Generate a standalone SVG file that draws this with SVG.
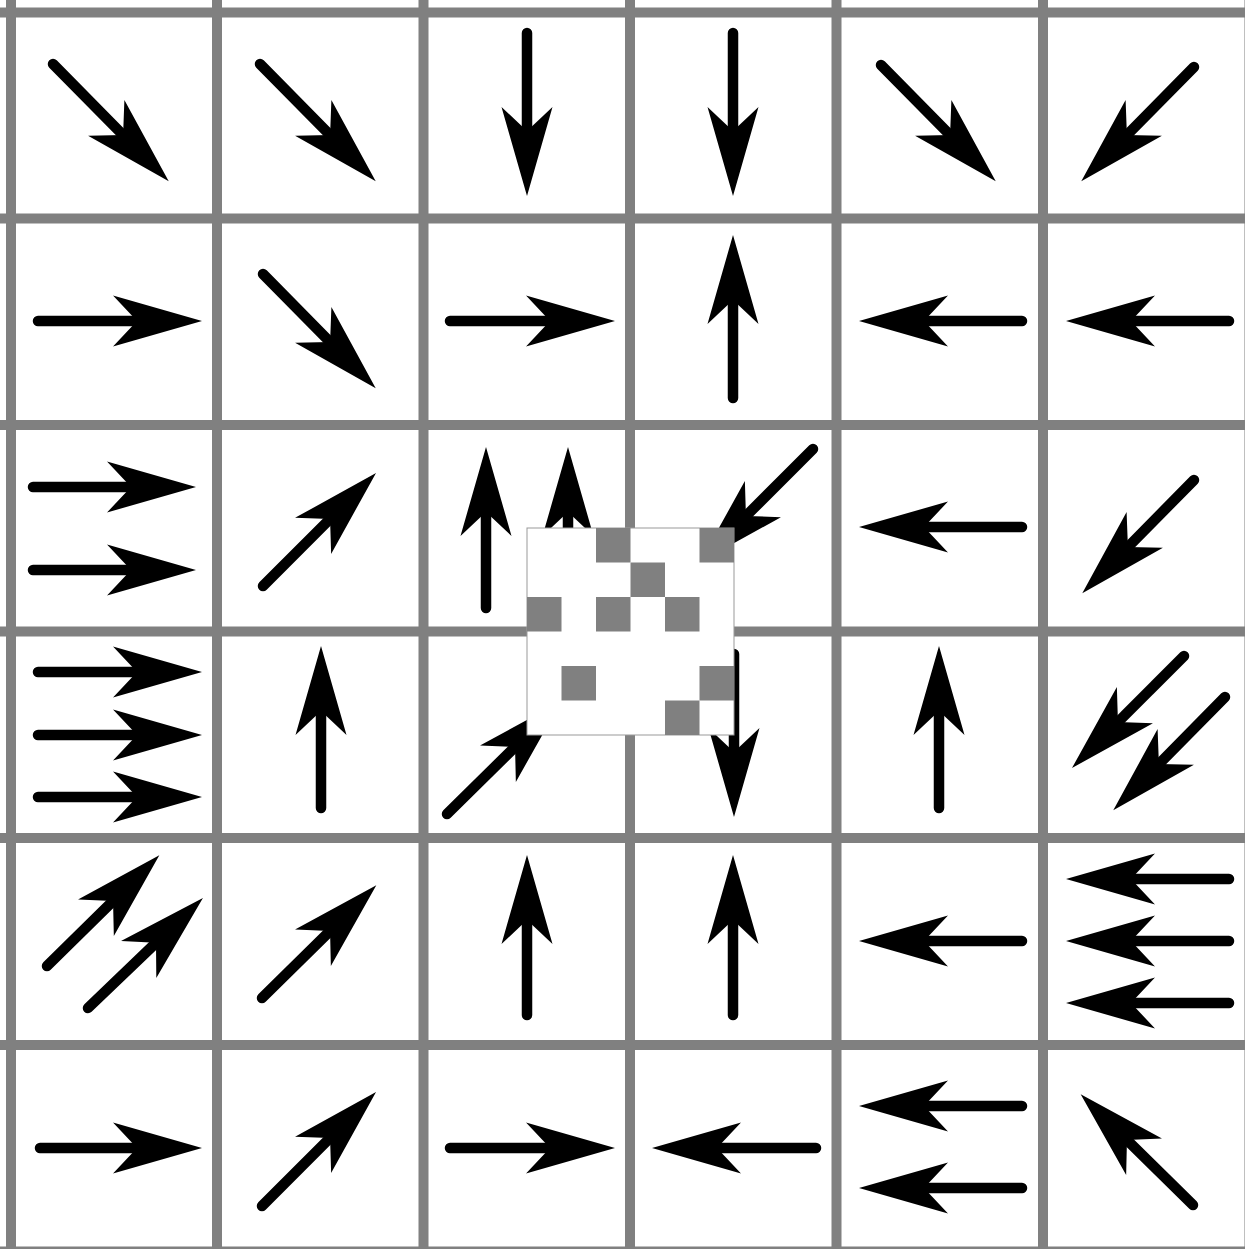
<svg xmlns="http://www.w3.org/2000/svg" width="1245" height="1249" viewBox="0 0 1245 1249">
<style>
.grid line{stroke:#808080;stroke-width:10}
.s{stroke:#000;stroke-width:10.5;stroke-linecap:round;fill:none;marker-end:url(#ah)}
.px{fill:#808080}
</style>
<defs>
<marker id="ah" markerUnits="userSpaceOnUse" viewBox="-31 -27 94 54" markerWidth="94" markerHeight="54" refX="0" refY="0" orient="auto">
<path d="M60,0 L-29,-25.5 L-5,0 L-29,25.5 Z" fill="#000"/>
</marker>
</defs>
<rect x="0" y="0" width="1245" height="1249" fill="#fff"/>
<g class="grid" id="grid">
<line x1="11" y1="0" x2="11" y2="1249"/>
<line x1="217" y1="0" x2="217" y2="1249"/>
<line x1="423.5" y1="0" x2="423.5" y2="1249"/>
<line x1="630" y1="0" x2="630" y2="1249"/>
<line x1="836.5" y1="0" x2="836.5" y2="1249"/>
<line x1="1043" y1="0" x2="1043" y2="1249"/>
<line x1="1249.5" y1="0" x2="1249.5" y2="1249"/>
<line x1="0" y1="12.5" x2="1245" y2="12.5"/>
<line x1="0" y1="218.5" x2="1245" y2="218.5"/>
<line x1="0" y1="425" x2="1245" y2="425"/>
<line x1="0" y1="631.5" x2="1245" y2="631.5"/>
<line x1="0" y1="838" x2="1245" y2="838"/>
<line x1="0" y1="1045" x2="1245" y2="1045"/>
<line x1="0" y1="1251.5" x2="1245" y2="1251.5"/>
</g>
<g id="arrows">
<g id="cell-0-0"><line class="s" x1="53" y1="64" x2="126.6" y2="138.6"/></g>
<g id="cell-0-1"><line class="s" x1="260" y1="64" x2="333.6" y2="138.6"/></g>
<g id="cell-0-2"><line class="s" x1="527" y1="33" x2="527" y2="136"/></g>
<g id="cell-0-3"><line class="s" x1="733" y1="33" x2="733" y2="136"/></g>
<g id="cell-0-4"><line class="s" x1="881" y1="65" x2="953.6" y2="138.6"/></g>
<g id="cell-0-5"><line class="s" x1="1194" y1="67" x2="1123.4" y2="138.6"/></g>

<g id="cell-1-0"><line class="s" x1="38" y1="321" x2="142" y2="321"/></g>
<g id="cell-1-1"><line class="s" x1="263" y1="274" x2="333.6" y2="345.6"/></g>
<g id="cell-1-2"><line class="s" x1="450" y1="321" x2="555" y2="321"/></g>
<g id="cell-1-3"><line class="s" x1="733" y1="398" x2="733" y2="295"/></g>
<g id="cell-1-4"><line class="s" x1="1022" y1="321" x2="919" y2="321"/></g>
<g id="cell-1-5"><line class="s" x1="1229" y1="321" x2="1126" y2="321"/></g>

<g id="cell-2-0"><line class="s" x1="33" y1="487" x2="136" y2="487"/><line class="s" x1="33" y1="570" x2="136" y2="570"/></g>
<g id="cell-2-1"><line class="s" x1="263" y1="586" x2="333.6" y2="515.4"/></g>
<g id="cell-2-2"><line class="s" x1="486" y1="608" x2="486" y2="507"/><line class="s" x1="568" y1="608" x2="568" y2="507"/></g>
<g id="cell-2-3"><line class="s" x1="813" y1="449" x2="742.4" y2="519.6"/></g>
<g id="cell-2-4"><line class="s" x1="1022" y1="527" x2="919" y2="527"/></g>
<g id="cell-2-5"><line class="s" x1="1194" y1="480" x2="1124.4" y2="550.6"/></g>

<g id="cell-3-0"><line class="s" x1="38" y1="672" x2="142" y2="672"/><line class="s" x1="38" y1="735" x2="142" y2="735"/><line class="s" x1="38" y1="797" x2="142" y2="797"/></g>
<g id="cell-3-1"><line class="s" x1="321" y1="808" x2="321" y2="706"/></g>
<g id="cell-3-2"><line class="s" x1="447" y1="814" x2="518.6" y2="743.4"/></g>
<g id="cell-3-3"><line class="s" x1="734" y1="654" x2="734" y2="757"/></g>
<g id="cell-3-4"><line class="s" x1="939" y1="808" x2="939" y2="706"/></g>
<g id="cell-3-5"><line class="s" x1="1184" y1="656" x2="1114.4" y2="725.6"/><line class="s" x1="1225" y1="697" x2="1155.4" y2="767.6"/></g>

<g id="cell-4-0"><line class="s" x1="47" y1="966" x2="116.6" y2="897.4"/><line class="s" x1="88" y1="1008" x2="159.6" y2="939.4"/></g>
<g id="cell-4-1"><line class="s" x1="262" y1="998" x2="333.6" y2="927.4"/></g>
<g id="cell-4-2"><line class="s" x1="527" y1="1015" x2="527" y2="915"/></g>
<g id="cell-4-3"><line class="s" x1="733" y1="1015" x2="733" y2="915"/></g>
<g id="cell-4-4"><line class="s" x1="1022" y1="941" x2="919" y2="941"/></g>
<g id="cell-4-5"><line class="s" x1="1229" y1="879" x2="1126" y2="879"/><line class="s" x1="1229" y1="941" x2="1126" y2="941"/><line class="s" x1="1229" y1="1003" x2="1126" y2="1003"/></g>

<g id="cell-5-0"><line class="s" x1="40" y1="1148" x2="142" y2="1148"/></g>
<g id="cell-5-1"><line class="s" x1="262" y1="1206" x2="333.6" y2="1134.4"/></g>
<g id="cell-5-2"><line class="s" x1="450" y1="1148" x2="555" y2="1148"/></g>
<g id="cell-5-3"><line class="s" x1="816" y1="1148" x2="712" y2="1148"/></g>
<g id="cell-5-4"><line class="s" x1="1022" y1="1106" x2="919" y2="1106"/><line class="s" x1="1022" y1="1188" x2="919" y2="1188"/></g>
<g id="cell-5-5"><line class="s" x1="1193" y1="1205" x2="1123.4" y2="1136.4"/></g>
</g>
<g id="mask">
<rect x="527" y="528" width="207" height="207" fill="#fff" stroke="#999" stroke-width="1"/>
<rect class="px" x="596" y="528" width="34.5" height="34.5"/>
<rect class="px" x="699.5" y="528" width="34.5" height="34.5"/>
<rect class="px" x="630.5" y="562.5" width="34.5" height="34.5"/>
<rect class="px" x="527" y="597" width="34.5" height="34.5"/>
<rect class="px" x="596" y="597" width="34.5" height="34.5"/>
<rect class="px" x="665" y="597" width="34.5" height="34.5"/>
<rect class="px" x="561.5" y="666" width="34.5" height="34.5"/>
<rect class="px" x="699.5" y="666" width="34.5" height="34.5"/>
<rect class="px" x="665" y="700.5" width="34.5" height="34.5"/>
</g>
</svg>
